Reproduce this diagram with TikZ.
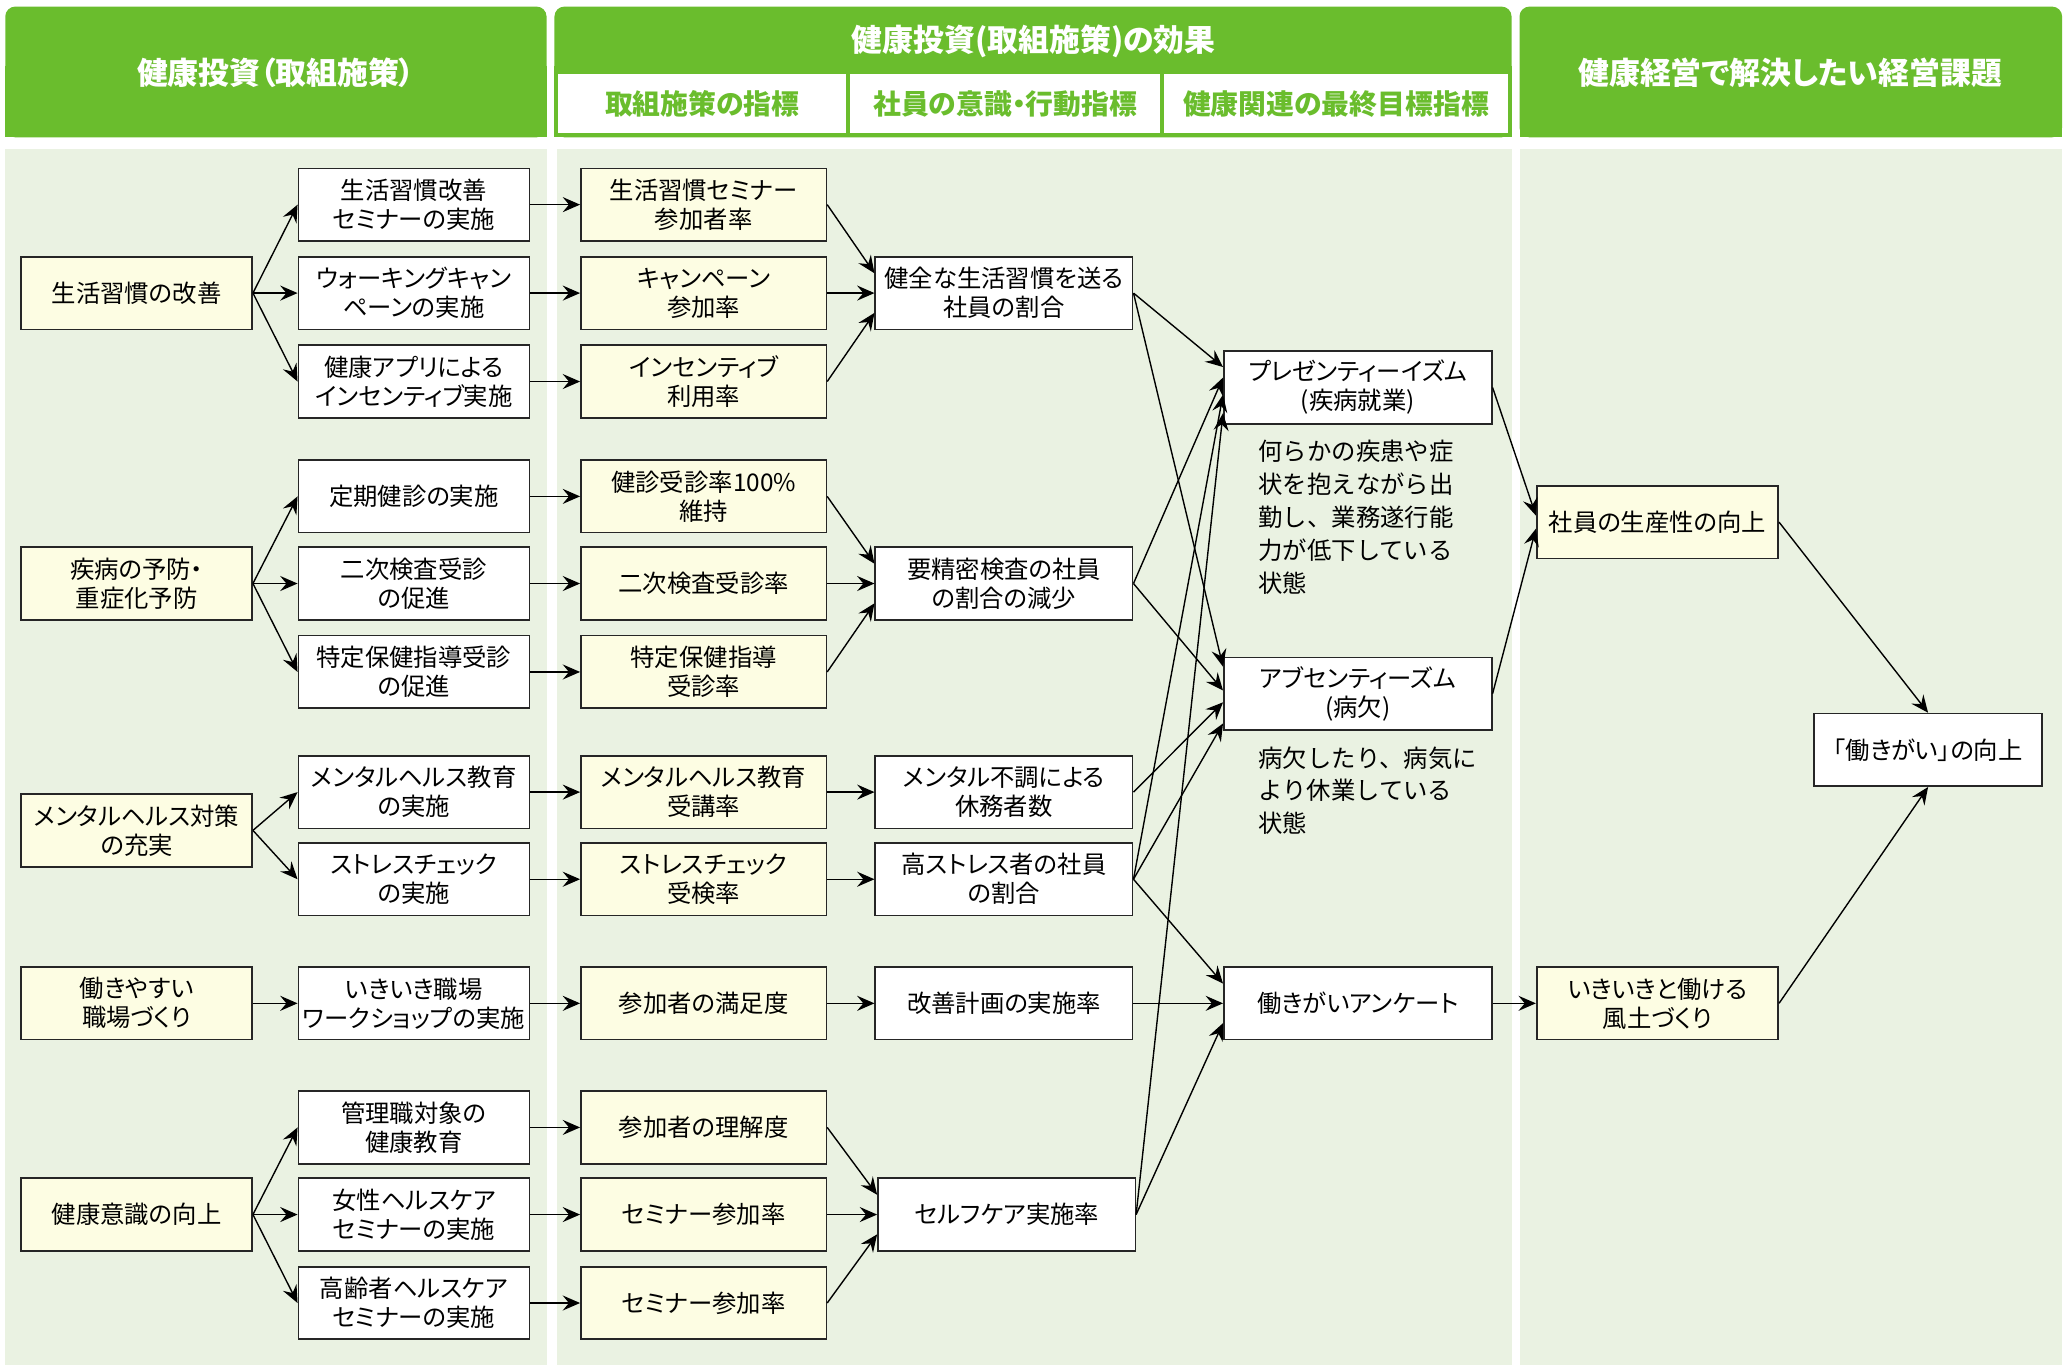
\documentclass[tikz,border=0pt]{standalone}
\usepackage{fontspec}
\setmainfont{Noto Sans CJK JP}[RawFeature=+palt]
\newfontfamily\descfont{Noto Sans CJK JP}
\usepackage{tikz}
\usetikzlibrary{arrows.meta}
\definecolor{hdrgreen}{RGB}{106,189,45}
\definecolor{panelgreen}{RGB}{234,242,226}
\definecolor{boxyellow}{RGB}{253,253,227}

\begin{document}
\begin{tikzpicture}[x=0.02cm,y=-0.02cm,
  box/.style={draw=black!85,line width=0.7pt,minimum height=1.1cm,inner xsep=1pt,align=center,font=\fontsize{10.5}{12.5}\selectfont},
  ybox/.style={box,fill=boxyellow},
  wbox/.style={box,fill=white},
  hd/.style={text=white,font=\fontsize{13.3}{15}\selectfont\bfseries},
  sub/.style={fill=white,text=hdrgreen,minimum height=0.9cm,inner sep=0pt,font=\fontsize{12}{14}\selectfont\bfseries},
  desc/.style={align=left,anchor=north west,inner sep=0pt,font=\descfont\fontsize{10.5}{14.2}\selectfont},
  arr/.style={-{Stealth[length=7.5pt,width=6.5pt,inset=2.7pt]},line width=0.6pt}]
			\useasboundingbox (0,0) rectangle (1568,1038);
			\fill[white] (0,0) rectangle (1568,1038);
			\fill[hdrgreen,rounded corners=0.15cm] (4,5) rectangle (414,104);
			\fill[hdrgreen,rounded corners=0.15cm] (420,5) rectangle (1145,104);
			\fill[hdrgreen,rounded corners=0.15cm] (1151,5) rectangle (1562,104);
			\fill[hdrgreen] (4,50) rectangle (414,104);
			\fill[hdrgreen] (420,50) rectangle (1145,104);
			\fill[hdrgreen] (1151,50) rectangle (1562,104);
			\fill[panelgreen] (4,113) rectangle (414,1034);
			\fill[panelgreen] (422,113) rectangle (1145,1034);
			\fill[panelgreen] (1151,113) rectangle (1562,1034);
			\node[hd](h1) at (209,55) {健康投資（取組施策）};
			\node[hd](h2) at (783,31) {健康投資(取組施策)の効果};
			\node[hd](h3) at (1356,55) {健康経営で解決したい経営課題};
			\node[sub,minimum width=4.36cm](sb1) at (532,78.5) {取組施策の指標};
			\node[sub,minimum width=4.7cm](sb2) at (761.5,78.5) {社員の意識・行動指標};
			\node[sub,minimum width=5.2cm](sb3) at (1012,78.5) {健康関連の最終目標指標};

			\node[ybox,minimum width=3.5cm](t1) at (103.5,222) {生活習慣の改善};
			\node[ybox,minimum width=3.5cm](t2) at (103.5,442) {疾病の予防・\\重症化予防};
			\node[ybox,minimum width=3.5cm](t3) at (103.5,629) {メンタルヘルス対策\\の充実};
			\node[ybox,minimum width=3.5cm](t4) at (103.5,760) {働きやすい\\職場づくり};
			\node[ybox,minimum width=3.5cm](t5) at (103.5,920) {健康意識の向上};

			\node[wbox,minimum width=3.5cm](m1) at (313.5,155) {生活習慣改善\\セミナーの実施};
			\node[wbox,minimum width=3.5cm](m2) at (313.5,222) {ウォーキングキャン\\ペーンの実施};
			\node[wbox,minimum width=3.5cm](m3) at (313.5,289) {健康アプリによる\\インセンティブ実施};
			\node[wbox,minimum width=3.5cm](m4) at (313.5,376) {定期健診の実施};
			\node[wbox,minimum width=3.5cm](m5) at (313.5,442) {二次検査受診\\の促進};
			\node[wbox,minimum width=3.5cm](m6) at (313.5,509) {特定保健指導受診\\の促進};
			\node[wbox,minimum width=3.5cm](m7) at (313.5,600) {メンタルヘルス教育\\の実施};
			\node[wbox,minimum width=3.5cm](m8) at (313.5,666) {ストレスチェック\\の実施};
			\node[wbox,minimum width=3.5cm](m9) at (313.5,760) {いきいき職場\\ワークショップの実施};
			\node[wbox,minimum width=3.5cm](m10) at (313.5,854) {管理職対象の\\健康教育};
			\node[wbox,minimum width=3.5cm](m11) at (313.5,920) {女性ヘルスケア\\セミナーの実施};
			\node[wbox,minimum width=3.5cm](m12) at (313.5,987) {高齢者ヘルスケア\\セミナーの実施};

			\node[ybox,minimum width=3.72cm](k1) at (533,155) {生活習慣セミナー\\参加者率};
			\node[ybox,minimum width=3.72cm](k2) at (533,222) {キャンペーン\\参加率};
			\node[ybox,minimum width=3.72cm](k3) at (533,289) {インセンティブ\\利用率};
			\node[ybox,minimum width=3.72cm](k4) at (533,376) {健診受診率100\%\\維持};
			\node[ybox,minimum width=3.72cm](k5) at (533,442) {二次検査受診率};
			\node[ybox,minimum width=3.72cm](k6) at (533,509) {特定保健指導\\受診率};
			\node[ybox,minimum width=3.72cm](k7) at (533,600) {メンタルヘルス教育\\受講率};
			\node[ybox,minimum width=3.72cm](k8) at (533,666) {ストレスチェック\\受検率};
			\node[ybox,minimum width=3.72cm](k9) at (533,760) {参加者の満足度};
			\node[ybox,minimum width=3.72cm](k10) at (533,854) {参加者の理解度};
			\node[ybox,minimum width=3.72cm](k11) at (533,920) {セミナー参加率};
			\node[ybox,minimum width=3.72cm](k12) at (533,987) {セミナー参加率};

			\node[wbox,minimum width=3.9cm](i1) at (760.5,222) {健全な生活習慣を送る\\社員の割合};
			\node[wbox,minimum width=3.9cm](i2) at (760.5,442) {要精密検査の社員\\の割合の減少};
			\node[wbox,minimum width=3.9cm](i3) at (760.5,600) {メンタル不調による\\休務者数};
			\node[wbox,minimum width=3.9cm](i4) at (760.5,666) {高ストレス者の社員\\の割合};
			\node[wbox,minimum width=3.9cm](i5) at (760.5,760) {改善計画の実施率};
			\node[wbox,minimum width=3.9cm](i6) at (762.5,920) {セルフケア実施率};

			\node[wbox,minimum width=4.06cm](g1) at (1028.5,293.5) {プレゼンティーイズム\\(疾病就業)};
			\node[wbox,minimum width=4.06cm](g2) at (1028.5,525.5) {アブセンティーズム\\(病欠)};
			\node[wbox,minimum width=4.06cm](g3) at (1028.5,760) {働きがいアンケート};
			\node[desc](d1) at (953,333) {何らかの疾患や症\\状を抱えながら出\\勤し、業務遂行能\\力が低下している\\状態};
			\node[desc](d2) at (953,565) {病欠したり、病気に\\より休業している\\状態};

			\node[ybox,minimum width=3.66cm](e1) at (1255.5,395.5) {社員の生産性の向上};
			\node[ybox,minimum width=3.66cm](e2) at (1255.5,760) {いきいきと働ける\\風土づくり};
			\node[wbox,minimum width=3.46cm](goal) at (1460.5,568) {「働きがい」の向上};

			\draw[arr] (t1.east)--(m1.west);
			\draw[arr] (t1.east)--(m2.west);
			\draw[arr] (t1.east)--(m3.west);
			\draw[arr] (t2.east)--(m4.west);
			\draw[arr] (t2.east)--(m5.west);
			\draw[arr] (t2.east)--(m6.west);
			\draw[arr] (t3.east)--(m7.west);
			\draw[arr] (t3.east)--(m8.west);
			\draw[arr] (t4.east)--(m9.west);
			\draw[arr] (t5.east)--(m10.west);
			\draw[arr] (t5.east)--(m11.west);
			\draw[arr] (t5.east)--(m12.west);

			\draw[arr] (m1.east)--(k1.west);
			\draw[arr] (m2.east)--(k2.west);
			\draw[arr] (m3.east)--(k3.west);
			\draw[arr] (m4.east)--(k4.west);
			\draw[arr] (m5.east)--(k5.west);
			\draw[arr] (m6.east)--(k6.west);
			\draw[arr] (m7.east)--(k7.west);
			\draw[arr] (m8.east)--(k8.west);
			\draw[arr] (m9.east)--(k9.west);
			\draw[arr] (m10.east)--(k10.west);
			\draw[arr] (m11.east)--(k11.west);
			\draw[arr] (m12.east)--(k12.west);

			\draw[arr] (k1.east)--([yshift=3mm]i1.west);
			\draw[arr] (k2.east)--(i1.west);
			\draw[arr] (k3.east)--([yshift=-3mm]i1.west);
			\draw[arr] (k4.east)--([yshift=3mm]i2.west);
			\draw[arr] (k5.east)--(i2.west);
			\draw[arr] (k6.east)--([yshift=-3mm]i2.west);
			\draw[arr] (k7.east)--(i3.west);
			\draw[arr] (k8.east)--(i4.west);
			\draw[arr] (k9.east)--(i5.west);
			\draw[arr] (k10.east)--([yshift=3mm]i6.west);
			\draw[arr] (k11.east)--(i6.west);
			\draw[arr] (k12.east)--([yshift=-3mm]i6.west);

			\draw[arr] (i1.east)--([yshift=3.1mm]g1.west);
			\draw[arr] (i1.east)--([yshift=4.1mm]g2.west);
			\draw[arr] (i2.east)--([yshift=1.5mm]g1.west);
			\draw[arr] (i2.east)--([yshift=0.5mm]g2.west);
			\draw[arr] (i3.east)--([yshift=-1.3mm]g2.west);
			\draw[arr] (i4.east)--([yshift=-1.1mm]g1.west);
			\draw[arr] (i4.east)--([yshift=-4.5mm]g2.west);
			\draw[arr] (i4.east)--([yshift=3mm]g3.west);
			\draw[arr] (i5.east)--(g3.west);
			\draw[arr] (i6.east)--([yshift=-3.9mm]g1.west);
			\draw[arr] (i6.east)--([yshift=-3mm]g3.west);

			\draw[arr] (g1.east)--([yshift=1mm]e1.west);
			\draw[arr] (g2.east)--([yshift=-1mm]e1.west);
			\draw[arr] (g3.east)--(e2.west);
			\draw[arr] (e1.east)--(goal.north);
			\draw[arr] (e2.east)--(goal.south);
		\end{tikzpicture}
\end{document}
